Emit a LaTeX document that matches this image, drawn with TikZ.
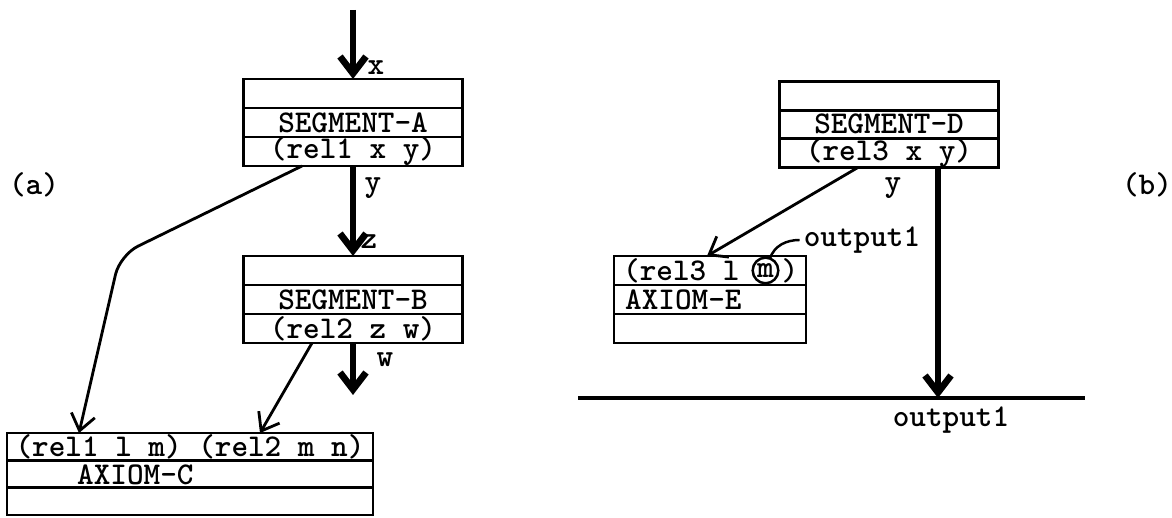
\documentclass[tikz,border=0pt]{standalone}
\usepackage{fontspec}
\usetikzlibrary{arrows.meta, positioning}
\tikzset{
    cell_seg/.style={
        rectangle, draw=black, line width=0.8pt,
        minimum width=2.19cm, minimum height=0.29cm,
        inner sep=0pt, outer sep=0pt,
        font=\ttfamily\bfseries\fontsize{9.0}{10}\selectfont
    },
    cell_axiom_wide/.style={
        cell_seg, minimum width=3.66cm, minimum height=0.273cm
    },
    cell_axiom_small/.style={
        cell_seg, minimum width=1.92cm
    },
    flow_thick/.style={
        -{Straight Barb[length=0.17cm, width=0.26cm]}, line width=1.9pt, draw=black
    },
    flow_thin/.style={
        -{Straight Barb[length=0.16cm, width=0.24cm]}, line width=0.8pt, draw=black
    },
    lbl/.style={
        font=\ttfamily\bfseries\fontsize{9.0}{10}\selectfont, inner sep=1pt
    }
}

\begin{document}
\begin{tikzpicture}
    \useasboundingbox (0,0) rectangle (11.72,-5.18);

    % Part (a): segments
    \node[cell_seg] (a_top) at (3.53,-0.935) {};
    \node[cell_seg, below=0cm of a_top] (a_name) {SEGMENT-A};
    \node[cell_seg, below=0cm of a_name] (a_rel) {(rel1 x y)};

    \node[cell_seg] (b_top) at (3.53,-2.705) {};
    \node[cell_seg, below=0cm of b_top] (b_name) {SEGMENT-B};
    \node[cell_seg, below=0cm of b_name] (b_rel) {(rel2 z w)};

    % Part (a): axiom
    \node[cell_axiom_wide] (c_rel) at (1.90,-4.467) {(rel1 l m) (rel2 m n)};
    \node[cell_axiom_wide, below=0cm of c_rel] (c_name) {};
    \node[cell_axiom_wide, below=0cm of c_name] (c_bot) {};
    \node[lbl, anchor=west] (c_label) at ([xshift=0.66cm,yshift=-0.01cm]c_name.west) {AXIOM-C};

    % Part (b)
    \node[cell_seg, minimum height=0.283cm] (d_top) at (8.89,-0.96) {};
    \node[cell_seg, minimum height=0.283cm, below=0cm of d_top] (d_name) {SEGMENT-D};
    \node[cell_seg, minimum height=0.29cm, below=0cm of d_name] (d_rel) {(rel3 x y)};

    \node[cell_axiom_small] (e_rel) at (7.10,-2.705) {};
    \node[cell_axiom_small, below=0cm of e_rel] (e_name) {};
    \node[cell_axiom_small, below=0cm of e_name] (e_bot) {};
    \node[lbl, anchor=west] (e_rel_txt) at ([xshift=0.05cm]e_rel.west) {(rel3 l};
    \node[lbl, circle, draw, line width=0.7pt, inner sep=0.4pt, outer sep=0pt, right=0.09cm of e_rel_txt] (m_ring) {m};
    \node[lbl, right=-0.01cm of m_ring] (e_rel_end) {)};
    \node[lbl, anchor=west] (e_label) at ([xshift=0.07cm]e_name.west) {AXIOM-E};
    \node[lbl] (out_top) at (8.62,-2.40) {output1};

    % Side labels
    \node[lbl] (tag_a) at (0.34,-1.85) {(a)};
    \node[lbl] (tag_b) at (11.47,-1.85) {(b)};

    % Variable labels
    \node[lbl] (lx) at (3.76,-0.68) {x};
    \node[lbl] (ly) at (3.73,-1.88) {y};
    \node[lbl] (lz) at (3.69,-2.42) {z};
    \node[lbl] (lw) at (3.85,-3.60) {w};
    \node[lbl] (ldy) at (8.93,-1.88) {y};

    % Output line
    \coordinate (line_l) at (5.78,-3.98);
    \coordinate (line_r) at (10.85,-3.98);
    \coordinate (x_in) at (3.53,-0.10);
    \coordinate (w_out) at (3.53,-3.95);
    \node[lbl] (out_bot) at (9.51,-4.20) {output1};

    % Connectors
    \draw[flow_thick] (x_in) -- (a_top.north);
    \draw[flow_thick] (a_rel.south) -- (b_top.north);
    \draw[flow_thick] (b_rel.south) -- (w_out);
    \draw[flow_thin, rounded corners=0.2cm] ([xshift=-0.51cm]a_rel.south) -- (1.20,-2.55) -- ([xshift=-1.11cm]c_rel.north);
    \draw[flow_thin] ([xshift=-0.41cm]b_rel.south) -- ([xshift=0.70cm]c_rel.north);
    \draw[flow_thin] ([xshift=-0.31cm]d_rel.south) -- ([xshift=-0.03cm]e_rel.north);
    \draw[line width=0.9pt] (line_l) -- (line_r);
    \draw[flow_thick] ([xshift=0.49cm]d_rel.south) -- ([xshift=0.49cm]d_rel.south |- line_l);
    \draw[line width=0.7pt] (m_ring.70) to[out=70, in=180] (out_top.west);
\end{tikzpicture}
\end{document}
